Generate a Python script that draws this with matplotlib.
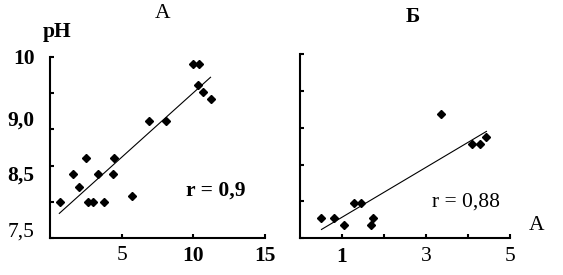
import numpy as np
import matplotlib
matplotlib.use("Agg")
import matplotlib.pyplot as plt
import matplotlib.transforms as mtransforms

plt.rcParams['font.family'] = ['Liberation Serif', 'DejaVu Serif']

# panel A: x vs pH
a_x = [0.70, 1.58, 2.05, 2.51, 2.67, 2.98, 3.37, 3.79, 4.42, 4.49,
       5.70, 6.91, 8.09, 9.96, 10.42, 10.35, 10.70, 11.21]
a_y = [8.00, 8.39, 8.20, 8.60, 8.00, 8.00, 8.39, 8.00, 8.39, 8.60,
       8.08, 9.11, 9.11, 9.91, 9.91, 9.61, 9.51, 9.42]
a_fit_x = [0.65, 11.2]
a_fit_y = [7.84, 9.72]

# panel Б
b_x = [0.52, 0.82, 1.06, 1.30, 1.45, 1.70, 1.74, 3.37, 4.10, 4.29, 4.42]
b_y = [7.78, 7.78, 7.68, 7.98, 7.98, 7.68, 7.78, 9.18, 8.78, 8.78, 8.88]
b_fit_x = [0.52, 4.44]
b_fit_y = [7.62, 8.95]

y_ticks = [7.5, 8.0, 8.5, 9.0, 9.5, 10.0]
y_labels = ['7,5', '', '8,5', '9,0', '', '10']
y_weights = ['normal', 'normal', 'bold', 'bold', 'normal', 'bold']
y_shift_px = [8, 0, -7, 11, 0, 0]   # labels sit a bit off their ticks in the original

a_xticks = [5, 10, 15]
a_xlabels = ['5', '10', '15']
a_xweights = ['normal', 'bold', 'bold']
b_xticks = [1, 2, 3, 4, 5]
b_xlabels = ['1', '', '3', '', '5']
b_xweights = ['bold', 'normal', 'normal', 'normal', 'normal']

W, H = 563, 275
fig = plt.figure(figsize=(W / 100, H / 100), dpi=100)
fs = 15.5


def box(x0, y0, x1, y1):
    # pixel box -> figure fraction [left, bottom, width, height]
    return [x0 / W, 1 - y1 / H, (x1 - x0) / W, (y1 - y0) / H]


def style(ax, xlim, xticks, xlabels, xweights):
    ax.set_xlim(*xlim)
    ax.set_ylim(7.5, 10)
    for s in ['top', 'right']:
        ax.spines[s].set_visible(False)
    for s in ['left', 'bottom']:
        ax.spines[s].set_linewidth(1.5)
    ax.set_xticks(xticks)
    ax.set_xticklabels(xlabels, fontsize=fs)
    for lab, w in zip(ax.get_xticklabels(), xweights):
        lab.set_fontweight(w)
    ax.set_yticks(y_ticks)
    ax.tick_params(direction='in', length=3, width=1.5, colors='black')
    ax.tick_params(axis='x', pad=6)
    ax.tick_params(axis='y', pad=11)


ax1 = fig.add_axes(box(50, 57, 265, 238))
style(ax1, (0, 15), a_xticks, a_xlabels, a_xweights)
ax1.set_yticklabels(y_labels, fontsize=fs)
for lab, w, d in zip(ax1.get_yticklabels(), y_weights, y_shift_px):
    lab.set_fontweight(w)
    lab.set_transform(lab.get_transform() +
                      mtransforms.ScaledTranslation(0, d / 100, fig.dpi_scale_trans))
ax1.plot(a_fit_x, a_fit_y, color='black', lw=0.8)
ax1.plot(a_x, a_y, 'D', color='black', ms=4.2, clip_on=False)

ax2 = fig.add_axes(box(299.6, 54, 510, 238.3))
style(ax2, (0, 5), b_xticks, b_xlabels, b_xweights)
ax2.set_yticklabels([''] * len(y_ticks))
ax2.plot(b_fit_x, b_fit_y, color='black', lw=0.8)
ax2.plot(b_x, b_y, 'D', color='black', ms=4.2, clip_on=False)


def ftext(x, y, s, **kw):
    fig.text(x / W, 1 - y / H, s, ha='center', va='center', fontsize=fs, **kw)


ftext(163, 14, 'A')
ftext(413, 17, 'Б', fontweight='bold')
ftext(57, 32, 'pH', fontweight='bold')
ftext(215.5, 190.5, 'r = 0,9', fontweight='bold')
ftext(466.5, 202, 'r = 0,88')
ftext(537, 225, 'A')

fig.savefig('out.png', dpi=100)
